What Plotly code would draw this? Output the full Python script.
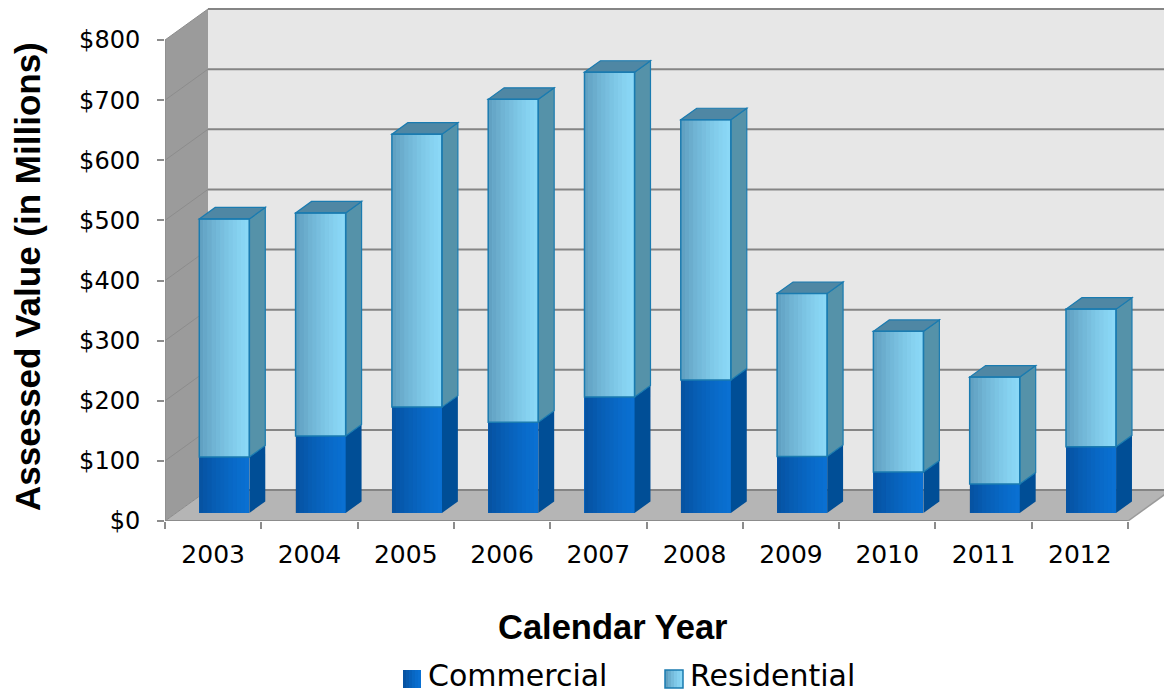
import plotly.graph_objects as go

# ---- data (US$ millions) ----
years = ["2003", "2004", "2005", "2006", "2007", "2008", "2009", "2010", "2011", "2012"]
commercial = [93, 128, 176, 151, 193, 221, 94, 68, 48, 110]
residential = [396, 371, 454, 537, 540, 433, 271, 234, 178, 229]
y_ticks = [0, 100, 200, 300, 400, 500, 600, 700, 800]
y_tick_labels = ["$0", "$100", "$200", "$300", "$400", "$500", "$600", "$700", "$800"]

# ---- page geometry ----
W, H = 1164, 693
ML, MT, MB = 165, 6, 172
PLOT_W = W - ML
PLOT_H = H - MT - MB
PX_PER_CAT = 96.3          # pixels per category slot
PX_PER_VAL = 0.60125       # pixels per $1M
x_range = [-0.5, -0.5 + PLOT_W / PX_PER_CAT]
y_range = [0, PLOT_H / PX_PER_VAL]

# 3-D box depth (in data units) and bar placement inside it
DX = 43 / PX_PER_CAT
DY = 31 / PX_PER_VAL
F0 = 0.26      # depth of the bar front plane
FB = 0.37      # bar depth
BW = 0.52      # bar width
N = len(years)
idx = list(range(N))
vmax = y_ticks[-1]


def px(xp):
    return (xp - ML) / PLOT_W


def py(yp):
    return (MT + PLOT_H - yp) / PLOT_H


def poly(pts):
    return "M " + " L ".join(f"{x},{y}" for x, y in pts) + " Z"


shapes = []

# walls and floor of the chart box
shapes.append(dict(type="path", xref="x", yref="y", layer="below",
                   path=poly([(-0.5 + DX, DY), (N - 0.5 + DX + 1, DY),
                              (N - 0.5 + DX + 1, vmax + DY), (-0.5 + DX, vmax + DY)]),
                   fillcolor="#e7e7e7", line=dict(width=0)))
shapes.append(dict(type="path", xref="x", yref="y", layer="below",
                   path=poly([(-0.5, 0), (-0.5 + DX, DY), (-0.5 + DX, vmax + DY), (-0.5, vmax)]),
                   fillcolor="#9b9b9b", line=dict(width=0)))
shapes.append(dict(type="path", xref="x", yref="y", layer="below",
                   path=poly([(-0.5, 0), (N - 0.5, 0), (N - 0.5 + DX, DY), (-0.5 + DX, DY)]),
                   fillcolor="#b5b5b5", line=dict(width=0)))

# gridlines on back wall and side wall
for v in y_ticks:
    shapes.append(dict(type="line", xref="x", yref="y", layer="below",
                       x0=-0.5 + DX, y0=v + DY, x1=N - 0.5 + DX + 1, y1=v + DY,
                       line=dict(color="#858585", width=2)))
    shapes.append(dict(type="line", xref="x", yref="y", layer="below",
                       x0=-0.5, y0=v, x1=-0.5 + DX, y1=v + DY,
                       line=dict(color="#8c8c8c", width=1)))

# front edges: value axis line and floor edge
shapes.append(dict(type="line", xref="x", yref="y", layer="below",
                   x0=-0.5, y0=0, x1=-0.5, y1=vmax, line=dict(color="#8c8c8c", width=1.5)))
shapes.append(dict(type="line", xref="x", yref="y", layer="below",
                   x0=-0.5, y0=0, x1=N - 0.5, y1=0, line=dict(color="#8c8c8c", width=2)))
shapes.append(dict(type="line", xref="x", yref="y", layer="below",
                   x0=N - 0.5, y0=0, x1=N - 0.5 + DX, y1=DY, line=dict(color="#9a9a9a", width=1.5)))

# ---- 3-D faces for each stacked segment ----
NSTRIP = 12
ddx, ddy = FB * DX, FB * DY
segments = [
    # values, shade of the gradient, max shade opacity, side colour, outline colour
    (commercial, (0, 40, 90), 0.40, "#004e96", None),
    (residential, (30, 70, 110), 0.38, "#5592a9", "#1a7bb0"),
]
bases = [0] * N
for values, shade, amax, side_col, edge in segments:
    for i in range(N):
        b, t = bases[i], bases[i] + values[i]
        x0, x1 = i - BW / 2, i + BW / 2
        # horizontal gradient on the front face
        for k in range(NSTRIP):
            a = amax * (1 - k / (NSTRIP - 1)) ** 1.3
            shapes.append(dict(type="rect", xref="x2", yref="y2", layer="above",
                               x0=x0 + BW * k / NSTRIP, x1=x0 + BW * (k + 1) / NSTRIP,
                               y0=b, y1=t,
                               fillcolor=f"rgba({shade[0]},{shade[1]},{shade[2]},{a:.3f})",
                               line=dict(width=0)))
        # right side face
        shapes.append(dict(type="path", xref="x2", yref="y2", layer="above",
                           path=poly([(x1, b), (x1 + ddx, b + ddy), (x1 + ddx, t + ddy), (x1, t)]),
                           fillcolor=side_col,
                           line=dict(color=edge if edge else side_col, width=1.2 if edge else 0)))
        if edge:
            # top face
            shapes.append(dict(type="path", xref="x2", yref="y2", layer="above",
                               path=poly([(x0, t), (x1, t), (x1 + ddx, t + ddy), (x0 + ddx, t + ddy)]),
                               fillcolor="#4f87a4", line=dict(color=edge, width=1.2)))
            shapes.append(dict(type="rect", xref="x2", yref="y2", layer="above",
                               x0=x0, x1=x1, y0=b, y1=t,
                               line=dict(color=edge, width=1.5)))
    bases = [bases[i] + values[i] for i in range(N)]

# ---- legend ----
legend_items = [("Commercial", 403, (10, 112, 210), (0, 40, 90), 0.40, None),
                ("Residential", 665, (139, 216, 246), (30, 70, 110), 0.38, "#1a7bb0")]
annotations = []
for label, lx, base_rgb, shade, amax, edge in legend_items:
    size = 18
    top = 670
    shapes.append(dict(type="rect", xref="paper", yref="paper",
                       x0=px(lx), x1=px(lx + size), y0=py(top + size), y1=py(top),
                       fillcolor=f"rgb{base_rgb}", line=dict(width=0)))
    for k in range(6):
        a = amax * (1 - k / 5) ** 1.3
        shapes.append(dict(type="rect", xref="paper", yref="paper",
                           x0=px(lx + size * k / 6), x1=px(lx + size * (k + 1) / 6),
                           y0=py(top + size), y1=py(top),
                           fillcolor=f"rgba({shade[0]},{shade[1]},{shade[2]},{a:.3f})",
                           line=dict(width=0)))
    if edge:
        shapes.append(dict(type="rect", xref="paper", yref="paper",
                           x0=px(lx), x1=px(lx + size), y0=py(top + size), y1=py(top),
                           line=dict(color=edge, width=1.5)))
    annotations.append(dict(text=label, xref="paper", yref="paper",
                            x=px(lx + size + 5), y=py(676), xanchor="left", yanchor="middle",
                            showarrow=False,
                            font=dict(family="DejaVu Sans", size=30, color="black")))

# axis titles
annotations.append(dict(text="<b>Assessed Value (in Millions)</b>", xref="paper", yref="paper",
                        x=px(27), y=py(277), textangle=-90, showarrow=False,
                        xanchor="center", yanchor="middle",
                        font=dict(family="Liberation Sans", size=35, color="black")))
annotations.append(dict(text="<b>Calendar Year</b>", xref="paper", yref="paper",
                        x=px(613), y=py(627), showarrow=False,
                        xanchor="center", yanchor="middle",
                        font=dict(family="Liberation Sans", size=34.5, color="black")))

# ---- bars (front faces) ----
fig = go.Figure()
fig.add_trace(go.Bar(x=idx, y=commercial, name="Commercial", width=BW,
                     marker=dict(color="#0a70d2", line=dict(width=0)),
                     xaxis="x2", yaxis="y2"))
fig.add_trace(go.Bar(x=idx, y=residential, name="Residential", width=BW,
                     marker=dict(color="#8bd8f6", line=dict(width=0)),
                     xaxis="x2", yaxis="y2"))

fig.update_layout(
    width=W, height=H, autosize=False,
    margin=dict(l=ML, r=0, t=MT, b=MB, pad=0),
    paper_bgcolor="white", plot_bgcolor="white",
    barmode="stack", showlegend=False,
    xaxis=dict(range=x_range, tickmode="array", tickvals=idx, ticktext=years,
               ticks="", showgrid=False, zeroline=False, showline=False,
               tickfont=dict(family="DejaVu Sans", size=25, color="black"),
               ticklabelstandoff=16,
               minor=dict(tickmode="array", tickvals=[i - 0.5 for i in range(N + 1)],
                          ticks="outside", ticklen=7, tickcolor="#8c8c8c", tickwidth=1.5,
                          showgrid=False)),
    yaxis=dict(range=y_range, tickmode="array", tickvals=y_ticks, ticktext=y_tick_labels,
               ticks="outside", ticklen=7, tickcolor="#8c8c8c", tickwidth=1.5,
               showgrid=False, zeroline=False, showline=False,
               tickfont=dict(family="DejaVu Sans", size=24, color="black"),
               ticklabelstandoff=12),
    xaxis2=dict(overlaying="x", range=[x_range[0] - F0 * DX, x_range[1] - F0 * DX],
                visible=False, anchor="y2"),
    yaxis2=dict(overlaying="y", range=[y_range[0] - F0 * DY, y_range[1] - F0 * DY],
                visible=False, anchor="x2"),
    shapes=shapes,
    annotations=annotations,
)

fig.write_html("out.html")
